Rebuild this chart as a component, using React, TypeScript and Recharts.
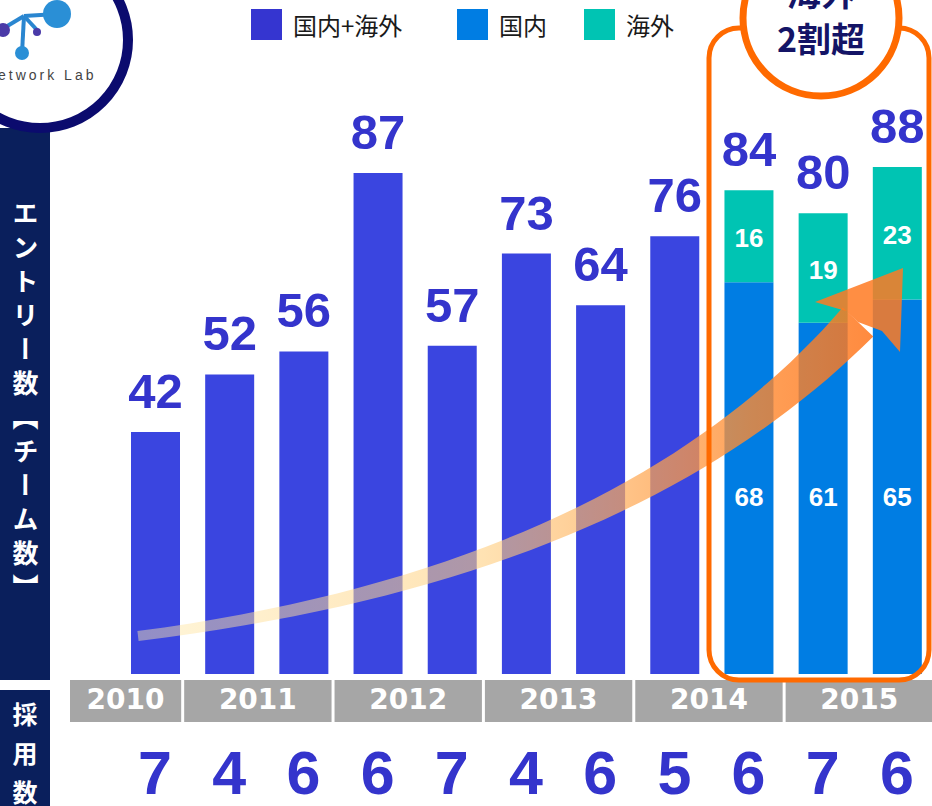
import { Bar, BarChart, LabelList, XAxis, YAxis } from "recharts";

const categories = ["a", "b", "c", "d", "e", "f", "g", "h", "i", "j", "k"];
const years = ["2010", "2011", "2011", "2012", "2012", "2013", "2013", "2014", "2014", "2015", "2015"];
const totals = [42, 52, 56, 87, 57, 73, 64, 76, null, null, null];
const domestic = [null, null, null, null, null, null, null, null, 68, 61, 65];
const overseas = [null, null, null, null, null, null, null, null, 16, 19, 23];
const hires = [7, 4, 6, 6, 7, 4, 6, 5, 6, 7, 6];

const data = categories.map((name, i) => ({
  name,
  total: totals[i],
  domestic: domestic[i],
  overseas: overseas[i],
  sum: domestic[i] != null ? (domestic[i] as number) + (overseas[i] as number) : null,
}));

const W = 934;
const H = 806;
const LEFT = 118;
const BAND = (W - LEFT) / categories.length;

const PURPLE = "#3a45e0";
const BLUE = "#007de3";
const TEAL = "#00c4b3";
const NUM = "#3434cc";
const NAVY = "#0a1f5c";
const ORANGE = "#ff6a00";
const DEJAVU = "'DejaVu Sans', sans-serif";
const ARIAL = "'Liberation Sans', Arial, sans-serif";
const JP = "'Noto Sans CJK JP', sans-serif";

const TopLabel = (props: any) => {
  const { x, y, width, value } = props;
  if (value == null) return null;
  return (
    <text x={x + width / 2} y={y - 24} textAnchor="middle" fill={NUM} fontFamily={ARIAL} fontWeight="bold" fontSize={49}>
      {value}
    </text>
  );
};

const DomLabel = (props: any) => {
  const { x, y, width, height, value } = props;
  if (value == null) return null;
  return (
    <text x={x + width / 2} y={y + height - 168} textAnchor="middle" fill="#fff" fontFamily={ARIAL} fontWeight="bold" fontSize={26}>
      {value}
    </text>
  );
};

const OverLabel = (props: any) => {
  const { x, y, width, height, value } = props;
  if (value == null) return null;
  return (
    <text x={x + width / 2} y={y + height / 2 + 11} textAnchor="middle" fill="#fff" fontFamily={ARIAL} fontWeight="bold" fontSize={26}>
      {value}
    </text>
  );
};

const YearTick = (props: any) => {
  const { x, payload } = props;
  const i = payload.index;
  const top = 680;
  const out = [];
  if (i === 0 || years[i] !== years[i - 1]) {
    let n = 1;
    while (years[i + n] === years[i]) n++;
    const g = Array.from(new Set(years)).indexOf(years[i]);
    const left = i === 0 ? x - BAND / 2 - 48 : x - BAND / 2 - 10 + 2 * g;
    const right = x - BAND / 2 + n * BAND - 11 + 2 * g;
    out.push(
      <g key="yr">
        <rect x={left} y={top} width={right - left} height={42} fill="#a6a6a6" />
        <text x={(left + right) / 2} y={top + 29} textAnchor="middle" fill="#fff" fontFamily={DEJAVU} fontWeight="bold" fontSize={28}>
          {years[i]}
        </text>
      </g>
    );
  }
  out.push(
    <text key="h" x={x} y={794} textAnchor="middle" fill={NUM} fontFamily={ARIAL} fontWeight="bold" fontSize={61}>
      {hires[i]}
    </text>
  );
  return <g>{out}</g>;
};

// tapered curved arrow
const P = [
  [138, 636],
  [500, 590],
  [720, 470],
  [858, 322],
];
const bez = (t: number, k: number) =>
  (1 - t) ** 3 * P[0][k] + 3 * (1 - t) ** 2 * t * P[1][k] + 3 * (1 - t) * t * t * P[2][k] + t ** 3 * P[3][k];
const arrowPath = () => {
  const up: string[] = [];
  const down: string[] = [];
  for (let s = 0; s <= 40; s++) {
    const t = s / 40;
    const x = bez(t, 0);
    const y = bez(t, 1);
    const dx = bez(Math.min(1, t + 0.01), 0) - bez(Math.max(0, t - 0.01), 0);
    const dy = bez(Math.min(1, t + 0.01), 1) - bez(Math.max(0, t - 0.01), 1);
    const len = Math.hypot(dx, dy);
    const nx = -dy / len;
    const ny = dx / len;
    const w = 5 + 16 * t ** 1.4;
    up.push(`${(x + nx * w).toFixed(1)},${(y + ny * w).toFixed(1)}`);
    down.unshift(`${(x - nx * w).toFixed(1)},${(y - ny * w).toFixed(1)}`);
  }
  return `M${up.join(" L")} L${down.join(" L")} Z`;
};

const Legend = () => {
  const items = [
    { label: "国内+海外", color: "#3535d0", x: 251 },
    { label: "国内", color: BLUE, x: 457 },
    { label: "海外", color: TEAL, x: 584 },
  ];
  return (
    <>
      {items.map((it) => (
        <div key={it.label} style={{ position: "absolute", left: it.x, top: 9, display: "flex", alignItems: "center" }}>
          <div style={{ width: 31, height: 31, background: it.color }} />
          <span style={{ marginLeft: 11, fontFamily: JP, fontSize: 24, color: "#1a1a1a", lineHeight: "31px" }}>{it.label}</span>
        </div>
      ))}
    </>
  );
};

export default function App() {
  return (
    <div style={{ position: "fixed", left: 0, top: 0, width: 932, height: H, overflow: "hidden", background: "#fff" }}>
      <div style={{ position: "absolute", left: 0, top: 0 }}>
        <BarChart width={W} height={H} data={data} margin={{ top: 98, right: 0, bottom: 0, left: LEFT }} barSize={49}>
          <XAxis dataKey="name" axisLine={false} tickLine={false} tickSize={0} interval={0} height={132} tick={<YearTick />} />
          <YAxis hide domain={[0, 100]} />
          <Bar dataKey="total" stackId="a" fill={PURPLE} isAnimationActive={false}>
            <LabelList dataKey="total" content={<TopLabel />} />
          </Bar>
          <Bar dataKey="domestic" stackId="a" fill={BLUE} isAnimationActive={false}>
            <LabelList dataKey="domestic" content={<DomLabel />} />
          </Bar>
          <Bar dataKey="overseas" stackId="a" fill={TEAL} isAnimationActive={false}>
            <LabelList dataKey="overseas" content={<OverLabel />} />
            <LabelList dataKey="sum" content={<TopLabel />} />
          </Bar>
        </BarChart>
      </div>

      <svg width={932} height={H} style={{ position: "absolute", left: 0, top: 0, pointerEvents: "none" }}>
        <defs>
          <linearGradient id="arr" x1="138" y1="0" x2="905" y2="0" gradientUnits="userSpaceOnUse">
            <stop offset="0" stopColor="#ffe9a8" stopOpacity={0.45} />
            <stop offset="0.45" stopColor="#ffcf80" stopOpacity={0.6} />
            <stop offset="0.8" stopColor="#ff8a30" stopOpacity={0.8} />
            <stop offset="1" stopColor="#ff6e14" stopOpacity={0.85} />
          </linearGradient>
        </defs>
        <path d={arrowPath()} fill="url(#arr)" />
        <path d="M903,268 L815,302 L846,311 L858,322 L882,331 L900,352 Z" fill="#ff7a22" fillOpacity={0.85} />

        {/* highlight frame */}
        <rect x={709} y={28} width={220} height={652} rx={30} fill="none" stroke={ORANGE} strokeWidth={5} />
        <circle cx={821} cy={18} r={78} fill="#fff" stroke={ORANGE} strokeWidth={7} />
        <text x={821} y={6} textAnchor="middle" fill="#141466" fontFamily={JP} fontWeight="bold" fontSize={34}>海外</text>
        <text x={821} y={52} textAnchor="middle" fill="#141466" fontFamily={JP} fontWeight="bold" fontSize={34}>2割超</text>

        {/* left side panels */}
        <rect x={0} y={128} width={50} height={552} fill={NAVY} />
        <rect x={0} y={690} width={50} height={116} fill={NAVY} />

        {/* logo */}
        <circle cx={40} cy={40} r={88} fill="#fff" stroke="#0b0b6e" strokeWidth={10} />
        <g stroke="#2a86d0" strokeWidth={4}>
          <line x1={24} y1={16} x2={57} y2={14} />
          <line x1={24} y1={16} x2={22} y2={53} />
          <line x1={24} y1={16} x2={37} y2={30} />
          <line x1={4} y1={28} x2={24} y2={16} />
        </g>
        <circle cx={57} cy={14} r={14} fill="#2a8fd6" />
        <circle cx={22} cy={53} r={7} fill="#2a8fd6" />
        <circle cx={37} cy={32} r={4} fill="#4a3aa8" />
        <circle cx={3} cy={30} r={7} fill="#4a3aa8" />
        <text x={-2} y={80} fill="#444" fontFamily={ARIAL} fontSize={14} letterSpacing={3}>etwork Lab</text>
      </svg>

      <div
        style={{
          position: "absolute",
          left: 0,
          top: 200,
          width: 50,
          height: 440,
          writingMode: "vertical-rl",
          textOrientation: "upright",
          color: "#fff",
          fontFamily: JP,
          fontWeight: "bold",
          fontSize: 26,
          lineHeight: "50px",
          letterSpacing: 8,
        }}
      >
        エントリー数【チーム数】
      </div>
      <div
        style={{
          position: "absolute",
          left: 0,
          top: 702,
          width: 50,
          height: 150,
          writingMode: "vertical-rl",
          textOrientation: "upright",
          color: "#fff",
          fontFamily: JP,
          fontWeight: "bold",
          fontSize: 25,
          lineHeight: "50px",
          letterSpacing: 14,
        }}
      >
        採用数
      </div>
      <Legend />
    </div>
  );
}
